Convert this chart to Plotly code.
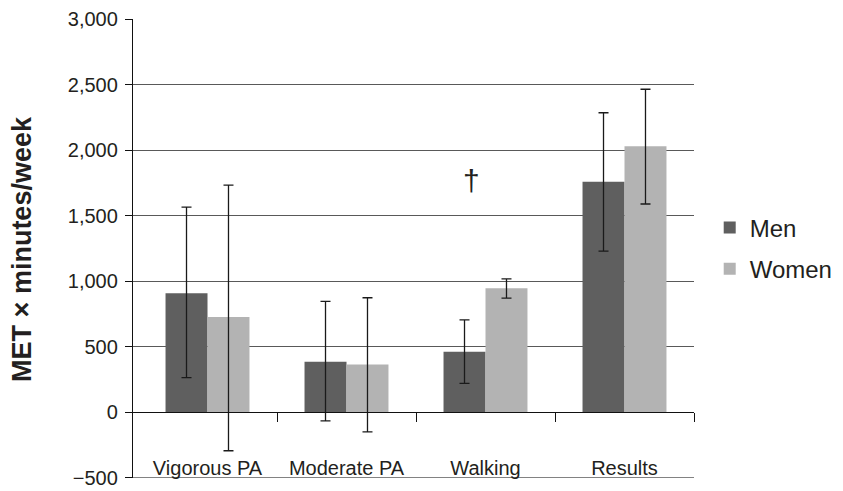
import plotly.graph_objects as go

categories = ["Vigorous PA", "Moderate PA", "Walking", "Results"]
men = [909, 386, 462, 1758]
men_err_plus = [656, 460, 243, 527]
men_err_minus = [644, 452, 242, 528]
women = [727, 364, 947, 2030]
women_err_plus = [1006, 510, 71, 434]
women_err_minus = [1020, 513, 76, 441]
y_ticks = [-500, 0, 500, 1000, 1500, 2000, 2500, 3000]
boundaries = [-0.5, 0.5, 1.5, 2.5, 3.5]

FONT = "Liberation Sans, Arial, sans-serif"
TXT = "#231f20"
GRID = "#595959"

fig = go.Figure()
fig.add_trace(go.Bar(
    x=categories, y=men, name="Men", legendgroup="m",
    marker=dict(color="#5f5f5f", line=dict(width=0)),
    error_y=dict(type="data", array=men_err_plus, arrayminus=men_err_minus,
                 color="#1a1a1a", thickness=1.3, width=5),
))
fig.add_trace(go.Bar(
    x=categories, y=women, name="Women", legendgroup="w",
    marker=dict(color="#b3b3b3", line=dict(width=0)),
    error_y=dict(type="data", array=women_err_plus, arrayminus=women_err_minus,
                 color="#1a1a1a", thickness=1.3, width=5),
))
# helper trace for the axis drawn at y = 0
fig.add_trace(go.Scatter(x=[boundaries[0], boundaries[-1]], y=[0, 0], xaxis="x2",
                         mode="lines", line=dict(width=0), showlegend=False,
                         hoverinfo="skip"))

fig.update_layout(
    width=835, height=483,
    margin=dict(l=125, r=149, t=11, b=13, autoexpand=False),
    paper_bgcolor="white", plot_bgcolor="white",
    font=dict(family=FONT, color=TXT, size=20),
    barmode="group", bargap=0.396, bargroupgap=0,
    xaxis=dict(
        type="category", categoryorder="array", categoryarray=categories,
        range=[-0.536, 3.5], showline=False, showgrid=False, zeroline=False,
        ticks="", anchor="free", position=0.052, automargin=False,
        tickfont=dict(size=20, color=TXT),
    ),
    xaxis2=dict(
        overlaying="x", anchor="free", position=501 / 3501, range=[-0.536, 3.5],
        tickvals=boundaries[1:], showticklabels=False, showline=True,
        linecolor="#111", linewidth=1.3, ticks="outside", ticklen=9,
        tickcolor="#111", tickwidth=1.3, showgrid=False, zeroline=False,
        automargin=False,
    ),
    yaxis=dict(
        range=[-501, 3000], tickvals=y_ticks, tickformat=",d",
        showgrid=True, gridcolor=GRID, gridwidth=1.3,
        zeroline=False, automargin=False, ticklabeloverflow="allow",
        showline=True, linecolor="#111", linewidth=1.3,
        ticks="outside", ticklen=7, tickcolor="#111", tickwidth=1.3,
        ticklabelstandoff=3,
        tickfont=dict(size=20, color=TXT),
    ),
    legend=dict(
        x=1.028, y=0.50, xanchor="left", yanchor="middle",
        font=dict(size=24, color=TXT), itemsizing="constant",
        tracegroupgap=7, bgcolor="rgba(0,0,0,0)",
    ),
    showlegend=True,
)

# bottom gridline at the lowest tick
fig.add_shape(type="line", xref="paper", yref="y", x0=0, x1=1,
              y0=y_ticks[0], y1=y_ticks[0], line=dict(color=GRID, width=1.3),
              layer="below")

fig.add_annotation(x=-0.198, y=0.499, xref="paper", yref="paper",
                   text="<b>MET × minutes/week</b>", textangle=-90, showarrow=False,
                   xanchor="center", yanchor="middle",
                   font=dict(size=27, color=TXT, family=FONT))

fig.add_annotation(x=1.90, y=1765, xref="x", yref="y", text="†", showarrow=False,
                   font=dict(size=30, color=TXT, family=FONT))

fig.write_html("out.html")
